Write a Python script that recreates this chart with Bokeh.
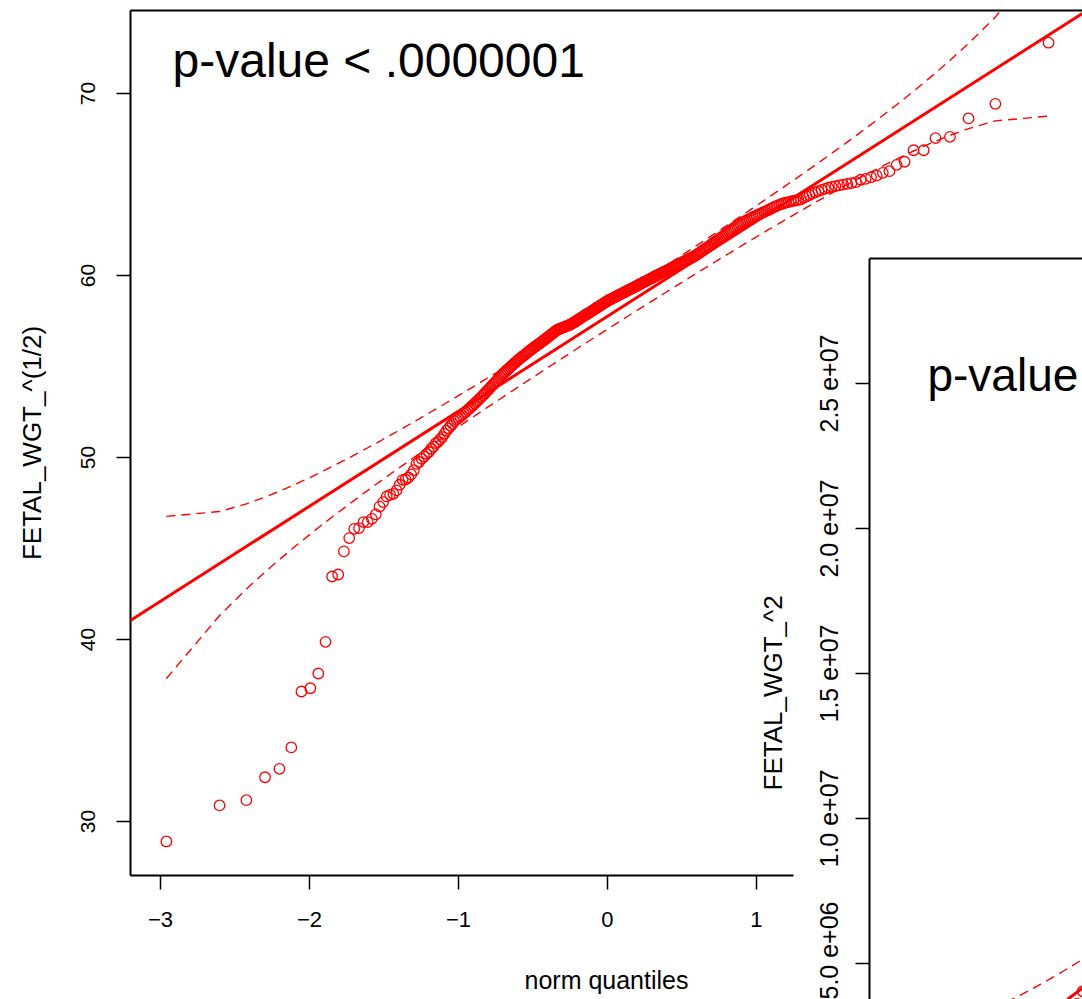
import math
from statistics import NormalDist

from bokeh.plotting import figure
from bokeh.models import (LinearAxis, FixedTicker, Slope, Label, GridBox, Title,
                          CustomJSTickFormatter, Range1d)
from bokeh.embed import file_html
from bokeh.resources import INLINE

# Sorted square-root fetal weights (one value per observation)
fetal_wgt_sqrt = [
    28.90, 30.88, 31.17, 32.43, 32.89, 34.07, 37.14, 37.32, 38.13, 39.87,
    43.46, 43.57, 44.84, 45.57, 46.08, 46.12, 46.45, 46.45, 46.63, 46.87,
    47.30, 47.55, 47.86, 47.95, 48.00, 48.19, 48.50, 48.77, 48.79, 48.90,
    49.07, 49.30, 49.65, 49.75, 49.93, 50.05, 50.20, 50.30, 50.48, 50.60,
    50.79, 50.85, 51.00, 51.12, 51.30, 51.48, 51.60, 51.75, 51.85, 52.00,
    52.08, 52.17, 52.25, 52.33, 52.42, 52.50,
    52.60, 52.69, 52.78, 52.87, 52.96, 53.05, 53.14, 53.23, 53.32,
    53.41, 53.50, 53.60, 53.69, 53.78, 53.88,
    53.97, 54.06, 54.15, 54.24, 54.33, 54.42, 54.51, 54.60,
    54.67, 54.74, 54.82, 54.89, 54.96, 55.03, 55.10, 55.17, 55.24, 55.31, 55.38,
    55.44, 55.50, 55.56, 55.61, 55.67, 55.73, 55.79, 55.85, 55.90, 55.96, 56.02,
    56.07, 56.12, 56.17, 56.22, 56.27, 56.32,
    56.37, 56.43, 56.48, 56.53, 56.59, 56.64, 56.69, 56.75, 56.80, 56.85, 56.91, 56.96, 57.01,
    57.04, 57.06, 57.09, 57.12, 57.14, 57.17, 57.20, 57.22, 57.25, 57.28, 57.30,
    57.34, 57.38, 57.42, 57.46, 57.50, 57.54, 57.58, 57.63, 57.67, 57.71, 57.75,
    57.79, 57.83, 57.87, 57.91, 57.95, 57.99, 58.03, 58.07, 58.11, 58.15, 58.20,
    58.24, 58.28, 58.32, 58.36, 58.40, 58.44, 58.48, 58.52, 58.56, 58.60,
    58.64, 58.67, 58.70, 58.73, 58.77, 58.80, 58.83, 58.86, 58.90, 58.93, 58.96,
    58.99, 59.03, 59.06, 59.09, 59.12, 59.16, 59.19, 59.22, 59.25, 59.29, 59.32,
    59.35, 59.38, 59.42, 59.45, 59.49, 59.52, 59.55, 59.59, 59.62, 59.66, 59.69,
    59.72, 59.76, 59.79, 59.83, 59.86, 59.90, 59.93, 59.96, 60.00, 60.03, 60.06,
    60.10, 60.13, 60.17, 60.20, 60.23, 60.27,
    60.30, 60.33, 60.37, 60.41, 60.44, 60.48, 60.52, 60.55, 60.59, 60.63, 60.67,
    60.70, 60.74, 60.78, 60.81, 60.85, 60.89, 60.92, 60.96, 61.00,
    61.04, 61.08, 61.13, 61.18, 61.23, 61.28, 61.34, 61.40, 61.45, 61.50, 61.56,
    61.60, 61.67, 61.73, 61.79, 61.84, 61.90,
    61.96, 62.02, 62.08, 62.14, 62.20, 62.27, 62.33, 62.40, 62.46, 62.53, 62.60,
    62.66, 62.73, 62.80, 62.85,
    62.90, 62.95, 63.00, 63.05, 63.10, 63.15, 63.20, 63.25, 63.30, 63.35, 63.40,
    63.45, 63.50, 63.55,
    63.60, 63.66, 63.72, 63.78, 63.83, 63.88, 63.93, 63.97, 64.00, 64.03, 64.07,
    64.10, 64.12, 64.15, 64.18, 64.28, 64.35, 64.42, 64.50, 64.57, 64.64, 64.70,
    64.76, 64.82, 64.87, 64.91, 64.95, 64.99, 65.03, 65.08, 65.13, 65.26, 65.31,
    65.40, 65.49, 65.64, 65.73, 66.08, 66.25, 66.88, 66.88, 67.55, 67.62, 68.63,
    69.43, 72.79,
]

# Squared fetal weight = (sqrt value)^4
fetal_wgt_sq = [v ** 4 for v in fetal_wgt_sqrt]

x_ticks = [-3, -2, -1, 0, 1]
y_ticks_sqrt = [30, 40, 50, 60, 70]
y_ticks_sq = [5e6, 1e7, 1.5e7, 2e7, 2.5e7]

# Reference lines (intercept, slope) and envelope level
line_sqrt = (57.76, 5.22)
line_sq = (1.113e7, 3.94e6)
envelope = 0.95

FONT = "Liberation Sans"
RED = "#FF0000"

# Theoretical normal quantiles at ppoints(n)
n = len(fetal_wgt_sqrt)
nd = NormalDist()
probs = [(i + 0.5) / n for i in range(n)]
zq = [nd.inv_cdf(pr) for pr in probs]
zcrit = nd.inv_cdf(1 - (1 - envelope) / 2)


def conf_band(intercept, slope):
    upper, lower = [], []
    for zi, pr in zip(zq, probs):
        fit = intercept + slope * zi
        se = slope / nd.pdf(zi) * math.sqrt(pr * (1 - pr) / n)
        upper.append(fit + zcrit * se)
        lower.append(fit - zcrit * se)
    return upper, lower


def style_axis(ax, tick_size, label_size):
    ax.axis_line_width = 2
    ax.axis_line_color = "black"
    ax.major_tick_line_width = 1.5
    ax.major_tick_line_color = "black"
    ax.major_tick_in = 0
    ax.major_tick_out = 14
    ax.minor_tick_in = 0
    ax.minor_tick_out = 0
    ax.major_label_text_font = FONT
    ax.major_label_text_font_size = tick_size
    ax.major_label_text_color = "black"
    ax.axis_label_text_font = FONT
    ax.axis_label_text_font_size = label_size
    ax.axis_label_text_font_style = "normal"
    ax.axis_label_text_color = "black"


def top_line(p):
    ax = LinearAxis(ticker=FixedTicker(ticks=[]))
    ax.axis_line_width = 2
    ax.major_tick_out = 0
    ax.major_tick_in = 0
    ax.minor_tick_out = 0
    ax.minor_tick_in = 0
    ax.major_label_text_font_size = "0px"
    p.add_layout(ax, "above")


# ---------------- square-root panel ----------------
p1 = figure(width=1082, height=999, output_backend="svg", toolbar_location=None,
            x_range=Range1d(-3.201, 3.188), y_range=Range1d(27.03, 74.56),
            min_border_left=130, min_border_right=0, min_border_top=10,
            min_border_bottom=124)
p1.grid.visible = False
p1.outline_line_color = None
p1.background_fill_color = "white"
p1.border_fill_color = "white"

xax = p1.xaxis[0]
xax.ticker = FixedTicker(ticks=x_ticks)
xax.bounds = (-3.201, 1.248)
xax.axis_label = "norm quantiles"
style_axis(xax, "22px", "25px")
xax.major_label_standoff = 22
xax.axis_label_standoff = 36

yax = p1.yaxis[0]
yax.ticker = FixedTicker(ticks=y_ticks_sqrt)
yax.axis_label = "FETAL_WGT_^(1/2)"
yax.major_label_orientation = "parallel"
style_axis(yax, "21px", "26px")
yax.major_label_standoff = 21
yax.axis_label_standoff = 32

top_line(p1)

up1, lo1 = conf_band(*line_sqrt)
p1.scatter(zq, fetal_wgt_sqrt, marker="circle", size=10.5, fill_color=None,
           line_color=RED, line_width=1.3)
p1.add_layout(Slope(gradient=line_sqrt[1], y_intercept=line_sqrt[0],
                    line_color=RED, line_width=3))
p1.line(zq, up1, line_color=RED, line_width=1.4, line_dash="9 6")
p1.line(zq, lo1, line_color=RED, line_width=1.4, line_dash="9 6")
p1.add_layout(Label(x=-2.919, y=71.81, text="p-value < .0000001",
                    text_font=FONT, text_font_size="48px", text_color="black",
                    text_align="left", text_baseline="alphabetic"))

# ---------------- squared panel ----------------
p2 = figure(width=358, height=759, output_backend="svg", toolbar_location=None,
            x_range=Range1d(-3.2, -1.7705), y_range=Range1d(3.759e6, 2.931e7),
            x_axis_location=None,
            min_border_left=145, min_border_right=0, min_border_top=18,
            min_border_bottom=0)
p2.grid.visible = False
p2.outline_line_color = None
p2.background_fill_color = None
p2.border_fill_color = None

yax2 = p2.yaxis[0]
yax2.ticker = FixedTicker(ticks=y_ticks_sq)
yax2.formatter = CustomJSTickFormatter(code="""
    const e = Math.floor(Math.log10(Math.abs(tick)));
    const m = tick / Math.pow(10, e);
    return m.toFixed(1) + " e+" + (e < 10 ? "0" + e : "" + e);
""")
yax2.major_label_orientation = "parallel"
style_axis(yax2, "25px", "26px")
yax2.major_label_standoff = 12

# y-axis title of this panel, measured up from the bottom of the frame
p2.add_layout(Title(text="FETAL_WGT_^2", align="left", offset=209,
                    text_font=FONT, text_font_size="26px",
                    text_font_style="normal", text_color="black",
                    standoff=49), "left")

top_line(p2)

up2, lo2 = conf_band(*line_sq)
p2.scatter(zq, fetal_wgt_sq, marker="circle", size=10.5, fill_color=None,
           line_color=RED, line_width=1.3)
p2.add_layout(Slope(gradient=line_sq[1], y_intercept=line_sq[0],
                    line_color=RED, line_width=3))
p2.line(zq, up2, line_color=RED, line_width=1.4, line_dash="9 6")
p2.line(zq, lo2, line_color=RED, line_width=1.4, line_dash="9 6")
p2.add_layout(Label(x=-2.811, y=2.53e7, text="p-value",
                    text_font=FONT, text_font_size="46px", text_color="black",
                    text_align="left", text_baseline="alphabetic"))

layout = GridBox(children=[(p1, 0, 0, 2, 2), (p2, 1, 1, 2, 1)],
                 rows=["240px", "759px", "0px"], cols=["724px", "358px"],
                 spacing=0)

open("out.html", "w").write(file_html(layout, INLINE))
